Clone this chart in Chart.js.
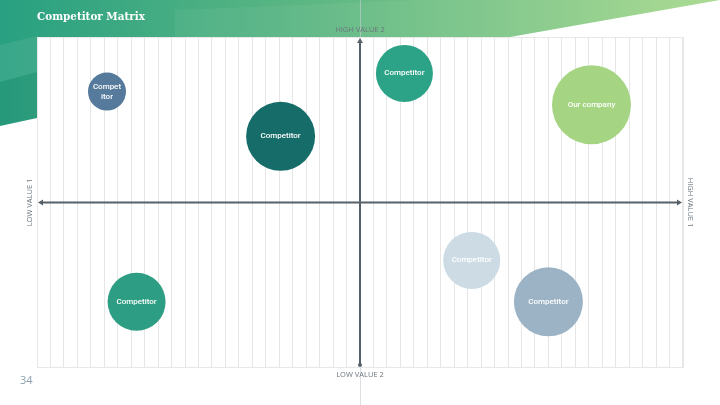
<!DOCTYPE html>
<html>
<head>
<meta charset="utf-8">
<script src="https://cdn.jsdelivr.net/npm/chart.js@4.4.1/dist/chart.umd.min.js"></script>
<style>
  html, body { margin: 0; padding: 0; background: #ffffff; }
  #wrap { position: relative; width: 720px; height: 405px; overflow: hidden; }
  canvas { position: absolute; left: 0; top: 0; }
</style>
</head>
<body>
<div id="wrap"><canvas id="c" width="720" height="405"></canvas></div>
<script>
// ---- data ----
const title = 'Competitor Matrix';
const pageNumber = '34';
const bubbleLabels = ['Compet\nitor', 'Competitor', 'Competitor', 'Our company', 'Competitor', 'Competitor', 'Competitor'];
const xValues = [-18.8, -5.9, 3.3, 17.2, 8.3, 14.0, -16.6];
const yValues = [6.7, 4.0, 7.8, 5.9, -3.5, -6.0, -6.0];
const sizes = [19, 34.5, 28.5, 39.5, 28.5, 34.5, 29];
const bubbleColors = ['#557a9b', '#156c69', '#2ca287', '#a5d582', '#cddbe5', '#9bb3c5', '#2d9e83'];
const axisLabels = { top: 'HIGH VALUE 2', bottom: 'LOW VALUE 2', left: 'LOW VALUE 1', right: 'HIGH VALUE 1' };
const xRange = [-24, 24];
const yRange = [-10, 10];

const points = xValues.map((x, i) => ({ x: x, y: yValues[i], r: sizes[i] }));

const backgroundPlugin = {
  id: 'bg',
  beforeDraw(chart) {
    const ctx = chart.ctx;
    ctx.save();
    const g = ctx.createLinearGradient(0, 0, 720, 0);
    g.addColorStop(0, '#28a081');
    g.addColorStop(0.45, '#5fb883');
    g.addColorStop(1, '#a8d98e');
    ctx.fillStyle = g;
    ctx.beginPath();
    ctx.moveTo(0, 0);
    ctx.lineTo(720, 0);
    ctx.lineTo(510, 37);
    ctx.lineTo(37, 37);
    ctx.lineTo(37, 118);
    ctx.lineTo(0, 126);
    ctx.closePath();
    ctx.fill();
    ctx.fillStyle = 'rgba(255,255,255,0.05)';
    ctx.beginPath();
    ctx.moveTo(175, 37);
    ctx.lineTo(175, 10);
    ctx.lineTo(420, 0);
    ctx.lineTo(720, 0);
    ctx.lineTo(510, 37);
    ctx.closePath();
    ctx.fill();
    ctx.fillStyle = 'rgba(255,255,255,0.08)';
    ctx.beginPath();
    ctx.moveTo(0, 45);
    ctx.lineTo(37, 36);
    ctx.lineTo(37, 72);
    ctx.lineTo(0, 82);
    ctx.closePath();
    ctx.fill();
    ctx.fillStyle = 'rgba(0,0,0,0.04)';
    ctx.beginPath();
    ctx.moveTo(0, 82);
    ctx.lineTo(37, 72);
    ctx.lineTo(37, 118);
    ctx.lineTo(0, 126);
    ctx.closePath();
    ctx.fill();
    // title
    ctx.fillStyle = '#ffffff';
    ctx.font = 'bold 11.5px "DejaVu Serif Condensed", "DejaVu Serif", serif';
    ctx.textBaseline = 'middle';
    ctx.textAlign = 'left';
    ctx.fillText(title, 37, 17.5);
    // faint page center line
    ctx.strokeStyle = 'rgba(200,205,210,0.6)';
    ctx.lineWidth = 1;
    ctx.beginPath();
    ctx.moveTo(360.5, 0);
    ctx.lineTo(360.5, 405);
    ctx.stroke();
    const a = chart.chartArea;
    ctx.fillStyle = '#ffffff';
    ctx.fillRect(a.left, a.top, a.right - a.left, a.bottom - a.top);
    ctx.restore();
  }
};

const axesPlugin = {
  id: 'axesArrows',
  beforeDatasetsDraw(chart) {
    const ctx = chart.ctx;
    const a = chart.chartArea;
    const xs = chart.scales.x, ys = chart.scales.y;
    const x0 = xs.getPixelForValue(0);
    const y0 = ys.getPixelForValue(0);
    ctx.save();
    ctx.strokeStyle = '#e8e8e8';
    ctx.lineWidth = 1;
    ctx.strokeRect(a.left + 0.5, a.top + 0.5, a.right - a.left - 1, a.bottom - a.top - 1);
    ctx.strokeStyle = '#57616a';
    ctx.fillStyle = '#57616a';
    ctx.lineWidth = 2;
    ctx.beginPath();
    ctx.moveTo(a.left + 4, y0);
    ctx.lineTo(a.right - 4, y0);
    ctx.stroke();
    const head = (x, y, dx, dy) => {
      ctx.beginPath();
      ctx.moveTo(x, y);
      ctx.lineTo(x - dx * 5 + dy * 3, y - dy * 5 + dx * 3);
      ctx.lineTo(x - dx * 5 - dy * 3, y - dy * 5 - dx * 3);
      ctx.closePath();
      ctx.fill();
    };
    head(a.left + 1, y0, -1, 0);
    head(a.right - 1, y0, 1, 0);
    ctx.beginPath();
    ctx.moveTo(x0, a.top + 4);
    ctx.lineTo(x0, a.bottom - 3);
    ctx.stroke();
    head(x0, a.top + 1, 0, -1);
    ctx.beginPath();
    ctx.arc(x0, a.bottom - 3, 2, 0, Math.PI * 2);
    ctx.fill();
    ctx.fillStyle = '#6b757e';
    ctx.font = '7.5px "Open Sans", sans-serif';
    ctx.textAlign = 'center';
    ctx.textBaseline = 'middle';
    ctx.fillText(axisLabels.top, x0, 29.5);
    ctx.fillText(axisLabels.bottom, x0, 374.5);
    ctx.save();
    ctx.translate(29.5, y0);
    ctx.rotate(-Math.PI / 2);
    ctx.fillText(axisLabels.left, 0, 0);
    ctx.restore();
    ctx.save();
    ctx.translate(690, y0);
    ctx.rotate(Math.PI / 2);
    ctx.fillText(axisLabels.right, 0, 0);
    ctx.restore();
    ctx.fillStyle = '#8ba1b1';
    ctx.font = '11px "Open Sans", sans-serif';
    ctx.textAlign = 'left';
    ctx.fillText(pageNumber, 20, 380.5);
    ctx.restore();
  },
  afterDatasetsDraw(chart) {
    const ctx = chart.ctx;
    const meta = chart.getDatasetMeta(0);
    ctx.save();
    ctx.fillStyle = '#ffffff';
    ctx.font = '500 8px Roboto, "Open Sans", sans-serif';
    ctx.textAlign = 'center';
    ctx.textBaseline = 'middle';
    meta.data.forEach((el, i) => {
      const lines = bubbleLabels[i].split('\n');
      const lh = 10;
      lines.forEach((ln, j) => {
        ctx.fillText(ln, el.x, el.y + (j - (lines.length - 1) / 2) * lh);
      });
    });
    ctx.restore();
  }
};

new Chart(document.getElementById('c'), {
  type: 'bubble',
  data: {
    datasets: [{
      data: points,
      backgroundColor: bubbleColors,
      borderWidth: 0,
      hoverBorderWidth: 0,
      hoverRadius: 0,
      clip: false
    }]
  },
  options: {
    responsive: false,
    animation: false,
    events: [],
    layout: { autoPadding: false, padding: { left: 37, right: 37, top: 37, bottom: 37 } },
    plugins: { legend: { display: false }, tooltip: { enabled: false } },
    scales: {
      x: {
        min: xRange[0], max: xRange[1],
        ticks: { display: false, stepSize: 1 },
        grid: { color: '#e6e6e6', lineWidth: 1, drawTicks: false },
        border: { display: false }
      },
      y: {
        display: false,
        min: yRange[0], max: yRange[1]
      }
    }
  },
  plugins: [backgroundPlugin, axesPlugin]
});
</script>
</body>
</html>
